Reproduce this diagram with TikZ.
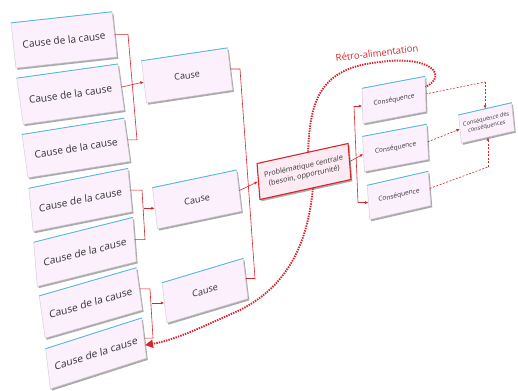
\documentclass[tikz,border=0pt]{standalone}
\usepackage{fontspec}
\setmainfont{Open Sans}
\usetikzlibrary{arrows.meta,shadows,calc}
\definecolor{boxfill}{HTML}{FBF0FB}
\definecolor{boxline}{HTML}{CFC8D2}
\definecolor{topblue}{HTML}{4DB6E2}
\definecolor{redc}{HTML}{D5262E}
\definecolor{txt}{HTML}{333333}
\definecolor{cenfill}{HTML}{FCEBF3}
\tikzset{
  sk/.style 2 args={cm={1,#1,#2,1,(0,0)}},
  box/.style={draw=boxline, line width=0.4pt, fill=boxfill, text=txt, inner sep=1pt, align=center,
    drop shadow={shadow xshift=1.4pt, shadow yshift=-1.8pt, fill=black!60, opacity=0.55}},
  ccbox/.style={box, font=\fontsize{10}{12}\selectfont},
  cbox/.style={box, font=\fontsize{9}{11}\selectfont},
  kbox/.style={box, font=\fontsize{6.5}{8}\selectfont},
  kkbox/.style={box, font=\fontsize{5.6}{7.4}\selectfont},
  cenbox/.style={box, draw=redc, line width=1.1pt, fill=cenfill, font=\fontsize{7.2}{9.6}\selectfont},
  topline/.style={draw=topblue, line width=0.8pt},
  conn/.style={draw=redc, line width=0.6pt},
  arr/.style={conn, -{Latex[length=3.5pt,width=3pt]}},
  dconn/.style={conn, dash pattern=on 2pt off 1.5pt},
  darr/.style={dconn, -{Latex[length=3.5pt,width=3pt]}},
  feed/.style={draw=redc, line width=1.9pt, dash pattern=on 1.4pt off 1.1pt},
}
\begin{document}
\begin{tikzpicture}[x=1pt,y=1pt]
\fill[white] (0,0) rectangle (518,390);
\useasboundingbox (0,0) rectangle (518,390);

% left column
\node[ccbox, minimum width=101pt, minimum height=45pt, sk={0.11}{-0.11}] (b1) at (64,350) {Cause de la cause};
\node[ccbox, minimum width=101pt, minimum height=46pt, sk={0.14}{-0.14}] (b2) at (70.5,295.75) {Cause de la cause};
\node[ccbox, minimum width=102pt, minimum height=43pt, sk={0.16}{-0.14}] (b3) at (76,242) {Cause de la cause};
\node[ccbox, minimum width=99pt, minimum height=43pt, sk={0.20}{-0.10}] (b4) at (80.5,190) {Cause de la cause};
\node[ccbox, minimum width=99pt, minimum height=44pt, sk={0.25}{-0.08}] (b5) at (85,138) {Cause de la cause};
\node[ccbox, minimum width=97pt, minimum height=42pt, sk={0.29}{-0.14}] (b6) at (90.75,87) {Cause de la cause};
\node[ccbox, minimum width=96pt, minimum height=40pt, sk={0.32}{-0.12}] (b7) at (96,36.5) {Cause de la cause};

% causes
\node[cbox, minimum width=86pt, minimum height=42pt, sk={0.15}{-0.12}] (c1) at (187,314.5) {Cause};
\node[cbox, minimum width=84pt, minimum height=41pt, sk={0.21}{-0.12}] (c2) at (197,190.5) {Cause};
\node[cbox, minimum width=81pt, minimum height=40pt, sk={0.30}{-0.12}] (c3) at (205,99.25) {Cause};

% central
\node[cenbox, minimum width=91pt, minimum height=36pt, sk={0.22}{-0.08}] (cen) at (304,218.5) {Problématique centrale\\(besoin, opportunité)};

% consequences
\node[kbox, minimum width=63pt, minimum height=35pt, sk={0.19}{-0.03}] (k1) at (394,290) {Conséquence};
\node[kbox, minimum width=64pt, minimum height=35pt, sk={0.19}{-0.05}] (k2) at (395.5,242) {Conséquence};
\node[kbox, minimum width=61pt, minimum height=34pt, sk={0.23}{-0.08}] (k3) at (399,194.5) {Conséquence};
\node[kkbox, minimum width=53pt, minimum height=28pt, sk={0.23}{-0.10}] (cc) at (486.5,267) {Conséquence des\\conséquences};

% blue top lines
\foreach \n in {b1,b2,b3,b4,b5,b6,b7,c1,c2,c3,k1,k2,k3,cc}
  \draw[topline] (\n.north west) -- (\n.north east);

% group 1
\coordinate (jt1) at (b1.east -| 128,0);
\coordinate (jb1) at (b3.east -| 137,0);
\draw[conn] (b1.east) -- (jt1) -- (jb1) -- (b3.east);
\draw[arr] (b2.east) -- (c1.west);

% group 2
\coordinate (jt2) at (b4.east -| 142,0);
\coordinate (jb2) at (b5.east -| 145,0);
\draw[conn] (b4.east) -- (jt2) -- (jb2) -- (b5.east);
\draw[arr] (c2.west -| 143.5,0) -- (c2.west);

% group 3
\coordinate (jt3) at (b6.east -| 150,0);
\coordinate (jb3) at (b7.east -| 153,0);
\draw[conn] (b6.east) -- (jt3) -- (jb3) -- (b7.east);
\draw[arr] (c3.west -| 151.5,0) -- (c3.west);

% group 4
\coordinate (jt4) at (c1.east -| 240,0);
\coordinate (jb4) at (c3.east -| 255,0);
\draw[conn] (c1.east) -- (jt4) -- (jb4) -- (c3.east);
\draw[arr] (c2.east) -- (cen.west);

% group 5
\coordinate (q1) at (k1.west -| 354,0);
\coordinate (q3) at (k3.west -| 358,0);
\draw[conn] (q1) -- (q3);
\draw[arr] (q1) -- (k1.west);
\draw[arr] (q3) -- (k3.west);
\draw[arr] (cen.east) -- (k2.west);

% group 6
\coordinate (m1) at (cc.north |- 0,308);
\coordinate (m3) at (cc.south |- 0,223);
\draw[dconn] (k1.east) -- (m1);
\draw[darr] (m1) -- (cc.north);
\draw[darr] (k2.east) -- (cc.west);
\draw[dconn] (k3.east) -- (m3);
\draw[darr] (m3) -- (cc.south);

% feedback
\coordinate (fs) at ($(cen.north west)!0.56!(cen.north east)$);
\coordinate (fe) at ($(k1.north east)!0.3!(k1.south east)$);
\draw[feed] (fs) .. controls (310,290) and (320,322) .. (380,328)
  .. controls (432,335) and (448,314) .. (fe);
\coordinate (gs) at ($(cen.south west)!0.58!(cen.south east)$);
\coordinate (ge) at ($(b7.east)!0.35!(b7.south east)$);
\draw[feed, -{Triangle[length=8pt,width=8pt]}] (gs) .. controls (308,150) and (290,105) .. (240,80)
  .. controls (200,62) and (175,50) .. (ge);

\node[text=redc, font=\fontsize{9.5}{11}\selectfont, rotate=7] (lab) at (377,337) {Rétro-alimentation};
\end{tikzpicture}
\end{document}
